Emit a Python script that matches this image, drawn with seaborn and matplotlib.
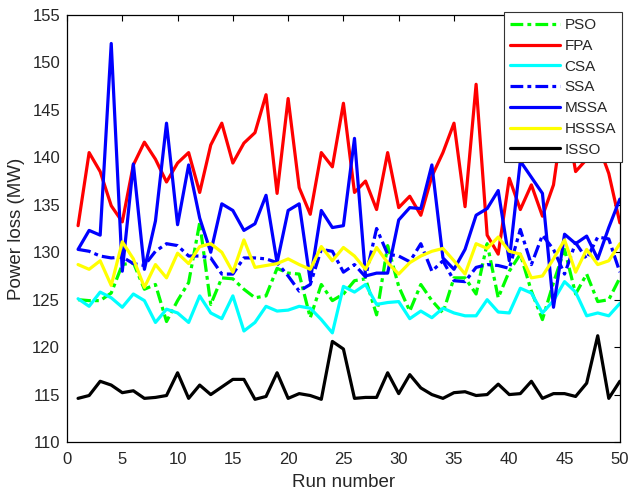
import numpy as np
import pandas as pd
import matplotlib
matplotlib.use("Agg")
import matplotlib.pyplot as plt
import seaborn as sns

runs = list(range(1, 51))

pso = [125.0, 124.9, 124.9, 125.7, 128.7, 128.9, 126.1, 126.6, 122.7, 124.9,
       126.8, 133.1, 124.5, 127.3, 127.2, 126.1, 125.2, 125.4, 128.3, 127.8,
       127.7, 123.1, 126.6, 124.9, 125.6, 127.0, 127.2, 123.4, 130.7, 126.4,
       123.8, 126.6, 124.9, 123.6, 127.3, 127.3, 125.6, 130.9, 125.2, 128.0,
       129.8, 125.9, 122.9, 126.8, 130.3, 125.6, 127.7, 124.8, 125.0, 127.3]

fpa = [132.8, 140.5, 138.5, 134.9, 133.2, 139.2, 141.6, 139.8, 137.4, 139.4,
       140.5, 136.3, 141.3, 143.6, 139.4, 141.5, 142.6, 146.6, 136.2, 146.2,
       136.8, 134.0, 140.5, 139.0, 145.7, 136.3, 137.5, 134.5, 140.5, 134.7,
       135.9, 133.9, 138.0, 140.5, 143.6, 134.8, 147.7, 131.8, 129.8, 137.8,
       134.5, 137.1, 133.8, 137.1, 145.4, 138.5, 139.8, 141.5, 138.3, 133.1]

csa = [125.1, 124.3, 125.8, 125.2, 124.2, 125.6, 124.9, 122.6, 124.0, 123.6,
       122.6, 125.4, 123.6, 123.0, 125.4, 121.7, 122.6, 124.3, 123.8, 123.9,
       124.3, 124.1, 122.9, 121.5, 126.4, 125.8, 126.6, 124.5, 124.7, 124.8,
       123.0, 123.8, 123.1, 124.1, 123.6, 123.3, 123.3, 125.0, 123.7, 123.6,
       126.2, 125.7, 123.6, 124.9, 126.9, 125.8, 123.3, 123.6, 123.3, 124.6]

ssa = [130.3, 130.1, 129.6, 129.4, 129.5, 128.8, 128.6, 130.1, 130.9, 130.7,
       129.6, 129.6, 129.4, 127.7, 127.7, 129.4, 129.4, 129.3, 128.9, 127.5,
       125.9, 126.6, 130.3, 130.1, 127.9, 128.7, 127.4, 132.5, 129.8, 129.6,
       129.0, 130.9, 128.0, 129.1, 127.0, 126.9, 128.4, 128.7, 128.6, 128.3,
       132.4, 128.7, 131.8, 130.3, 127.7, 131.0, 129.3, 131.6, 131.4, 127.9]

mssa = [130.3, 132.3, 131.8, 152.0, 128.0, 139.3, 128.2, 133.3, 143.6, 132.9,
        139.2, 133.6, 130.0, 135.1, 134.4, 132.3, 133.0, 136.0, 128.9, 134.4,
        135.1, 127.0, 134.4, 132.6, 132.8, 142.0, 127.5, 127.8, 127.8, 133.4,
        134.7, 134.6, 139.2, 129.4, 128.2, 130.3, 133.9, 134.6, 136.5, 129.1,
        139.6, 137.9, 136.2, 124.2, 131.9, 130.9, 131.7, 129.3, 132.6, 135.6]

hsssa = [128.7, 128.2, 129.1, 126.5, 131.1, 129.3, 126.3, 128.7, 127.3, 129.9,
         128.8, 130.6, 130.9, 130.0, 127.9, 131.3, 128.4, 128.6, 128.8, 129.3,
         128.7, 128.2, 130.6, 129.1, 130.5, 129.6, 128.2, 130.5, 128.9, 127.7,
         128.9, 129.6, 130.1, 130.4, 129.1, 127.7, 130.9, 130.4, 131.6, 130.1,
         129.8, 127.3, 127.5, 129.3, 131.3, 127.9, 130.3, 128.7, 129.1, 130.9]

isso = [114.6, 114.9, 116.4, 116.0, 115.2, 115.4, 114.6, 114.7, 114.9, 117.3,
        114.6, 116.0, 115.0, 115.8, 116.6, 116.6, 114.5, 114.8, 117.3, 114.6,
        115.1, 114.9, 114.5, 120.6, 119.8, 114.6, 114.7, 114.7, 117.3, 115.1,
        117.1, 115.7, 115.0, 114.6, 115.2, 115.3, 114.9, 115.0, 116.1, 115.0,
        115.1, 116.4, 114.6, 115.1, 115.1, 114.8, 116.2, 121.2, 114.6, 116.4]

names = ["PSO", "FPA", "CSA", "SSA", "MSSA", "HSSSA", "ISSO"]
series = [pso, fpa, csa, ssa, mssa, hsssa, isso]
colors = ["#00ff00", "#ff0000", "#00ffff", "#0000ff", "#0000ff", "#ffff00", "#000000"]
dashed = [True, False, False, True, False, False, False]

sns.set_style("white")
plt.rcParams['font.family'] = ['Liberation Sans', 'DejaVu Sans']

fig = plt.figure(figsize=(6.28, 4.92), dpi=100)
ax = fig.add_axes([0.1067, 0.1016, 0.8803, 0.8679])

for name, vals, col, dsh in zip(names, series, colors, dashed):
    df = pd.DataFrame({"run": runs, "loss": vals})
    sns.lineplot(data=df, x="run", y="loss", color=col, linewidth=2.3,
                 label=name, ax=ax, legend=False)
    ln = ax.lines[-1]
    if dsh:
        ln.set_dashes((4.0, 1.3, 1.2, 1.3))

ax.set_xlim(0, 50)
ax.set_ylim(110, 155)
ax.set_xticks(np.arange(0, 51, 5))
ax.set_yticks(np.arange(110, 156, 5))
ax.tick_params(direction="in", top=True, right=True, length=4, width=0.8,
               labelsize=12, colors="black", labelcolor="#262626")
ax.tick_params(axis="x", pad=7)
ax.tick_params(axis="y", pad=5)
for s in ax.spines.values():
    s.set_color("black")
    s.set_linewidth(0.9)
ax.set_xlabel("Run number", fontsize=13.5, labelpad=5, color="#262626")
ax.set_ylabel("Power loss (MW)", fontsize=13.5, labelpad=5, color="#262626")

leg = ax.legend(loc="upper right", bbox_to_anchor=(1.004, 1.006), fontsize=11,
                frameon=True, fancybox=False, edgecolor="#333333",
                handlelength=3.3, handletextpad=0.3, labelspacing=0.44,
                borderpad=0.38, borderaxespad=0.0)
leg.get_frame().set_linewidth(0.8)
leg.get_frame().set_alpha(1.0)

fig.savefig("out.png", dpi=100)
